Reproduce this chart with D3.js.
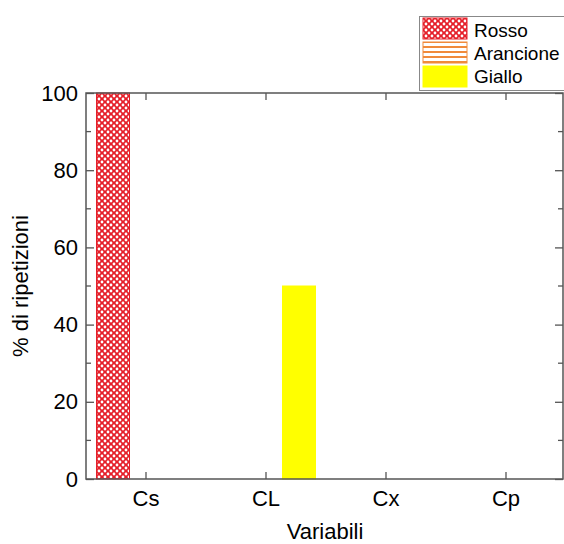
<!DOCTYPE html>
<html>
<head>
<meta charset="utf-8">
<script src="https://cdn.jsdelivr.net/npm/d3@7/dist/d3.min.js"></script>
<style>
  body { margin: 0; background: #fff; }
  svg { display: block; font-family: Arial, "Liberation Sans", sans-serif; }
</style>
</head>
<body>
<div id="chart"></div>
<script>
const categories = ['Cs', 'CL', 'Cx', 'Cp'];
const seriesNames = ['Rosso', 'Arancione', 'Giallo'];
const rosso = [100, 0, 0, 0];
const arancione = [0, 0, 0, 0];
const giallo = [0, 50, 0, 0];
const yTicks = [0, 20, 40, 60, 80, 100];
const yMinorTicks = [10, 30, 50, 70, 90];

const width = 564;
const height = 544;
const margin = {top: 93, right: 1, bottom: 65, left: 86};

const svg = d3.select('#chart').append('svg')
  .attr('width', width)
  .attr('height', height);

const defs = svg.append('defs');

// red pattern with white dots
const redPat = defs.append('pattern')
  .attr('id', 'pat-rosso')
  .attr('patternUnits', 'userSpaceOnUse')
  .attr('width', 6)
  .attr('height', 6);
redPat.append('rect').attr('width', 6).attr('height', 6).attr('fill', '#e51f29');
[[0, 0], [6, 0], [0, 6], [6, 6], [3, 3]].forEach(p => {
  redPat.append('circle').attr('cx', p[0]).attr('cy', p[1]).attr('r', 1.4).attr('fill', '#fff');
});

// orange horizontal lines
const orPat = defs.append('pattern')
  .attr('id', 'pat-arancione')
  .attr('patternUnits', 'userSpaceOnUse')
  .attr('width', 6)
  .attr('height', 5);
orPat.append('rect').attr('width', 6).attr('height', 5).attr('fill', '#fff');
orPat.append('rect').attr('y', 1).attr('width', 6).attr('height', 2).attr('fill', '#f08a3a');

const fills = ['url(#pat-rosso)', 'url(#pat-arancione)', '#ffff00'];
const strokes = ['#e51f29', '#f08a3a', '#ffff00'];
const seriesData = [rosso, arancione, giallo];

const x = d3.scaleBand()
  .domain(categories)
  .range([margin.left, 566])
  .padding(0);

const xSub = d3.scaleBand()
  .domain(seriesNames)
  .range([-49.5, 49.5]);

const y = d3.scaleLinear()
  .domain([0, 100])
  .range([height - margin.bottom, margin.top]);

const plotRight = 563;
const axisColor = '#555';

// bars
seriesNames.forEach((name, si) => {
  svg.append('g').selectAll('rect')
    .data(seriesData[si].map((v, i) => ({cat: categories[i], value: v})).filter(d => d.value > 0))
    .join('rect')
    .attr('x', d => x(d.cat) + x.bandwidth() / 2 + xSub(name))
    .attr('y', d => y(d.value))
    .attr('width', xSub.bandwidth())
    .attr('height', d => y(0) - y(d.value))
    .attr('fill', fills[si])
    .attr('stroke', strokes[si])
    .attr('stroke-width', 1);
});

// left axis
const leftAxis = svg.append('g')
  .attr('transform', 'translate(' + margin.left + ',0)')
  .call(d3.axisLeft(y).tickValues(yTicks).tickSize(-8).tickPadding(8).tickSizeOuter(0));
leftAxis.attr('font-size', null).attr('font-family', null);
leftAxis.selectAll('text').style('font-size', '22px').attr('fill', '#000');
svg.append('g').selectAll('line')
  .data(yMinorTicks)
  .join('line')
  .attr('x1', margin.left).attr('x2', margin.left + 5)
  .attr('y1', d => y(d)).attr('y2', d => y(d));

// right axis
svg.append('g')
  .attr('transform', 'translate(' + plotRight + ',0)')
  .call(d3.axisRight(y).tickValues(yTicks).tickSize(-8).tickFormat('').tickSizeOuter(0));
svg.append('g').selectAll('line')
  .data(yMinorTicks)
  .join('line')
  .attr('x1', plotRight).attr('x2', plotRight - 5)
  .attr('y1', d => y(d)).attr('y2', d => y(d));

// bottom axis
const bottomAxis = svg.append('g')
  .attr('transform', 'translate(0,' + y(0) + ')')
  .call(d3.axisBottom(x).tickSize(-7).tickPadding(11).tickSizeOuter(0));
bottomAxis.attr('font-size', null).attr('font-family', null);
bottomAxis.selectAll('text').style('font-size', '22px').attr('fill', '#000');

// top axis
svg.append('g')
  .attr('transform', 'translate(0,' + y(100) + ')')
  .call(d3.axisTop(x).tickSize(-7).tickFormat('').tickSizeOuter(0));

svg.selectAll('.domain').remove();
svg.selectAll('.tick line').attr('stroke', axisColor).attr('stroke-width', 1.3);
svg.selectAll('g > line').attr('stroke', axisColor).attr('stroke-width', 1.3);

// frame
svg.append('rect')
  .attr('x', margin.left)
  .attr('y', y(100))
  .attr('width', plotRight - margin.left)
  .attr('height', y(0) - y(100))
  .attr('fill', 'none')
  .attr('stroke', axisColor)
  .attr('stroke-width', 1.5);

// axis titles
svg.append('text')
  .attr('x', 325)
  .attr('y', 539)
  .attr('text-anchor', 'middle')
  .style('font-size', '22px')
  .text('Variabili');

svg.append('text')
  .attr('transform', 'translate(28,286) rotate(-90)')
  .attr('text-anchor', 'middle')
  .style('font-size', '22px')
  .text('% di ripetizioni');

// legend
const legend = svg.append('g');
legend.append('rect')
  .attr('x', 419.5)
  .attr('y', 16.5)
  .attr('width', 150)
  .attr('height', 74)
  .attr('fill', '#fff')
  .attr('stroke', '#888')
  .attr('stroke-width', 1);

seriesNames.forEach((name, i) => {
  const yy = 18 + i * 24;
  legend.append('rect')
    .attr('x', 423)
    .attr('y', yy)
    .attr('width', 44)
    .attr('height', 21)
    .attr('fill', fills[i])
    .attr('stroke', strokes[i])
    .attr('stroke-width', 1);
  legend.append('text')
    .attr('x', 474)
    .attr('y', 37 + i * 23)
    .style('font-size', '19px')
    .text(name);
});
</script>
</body>
</html>
